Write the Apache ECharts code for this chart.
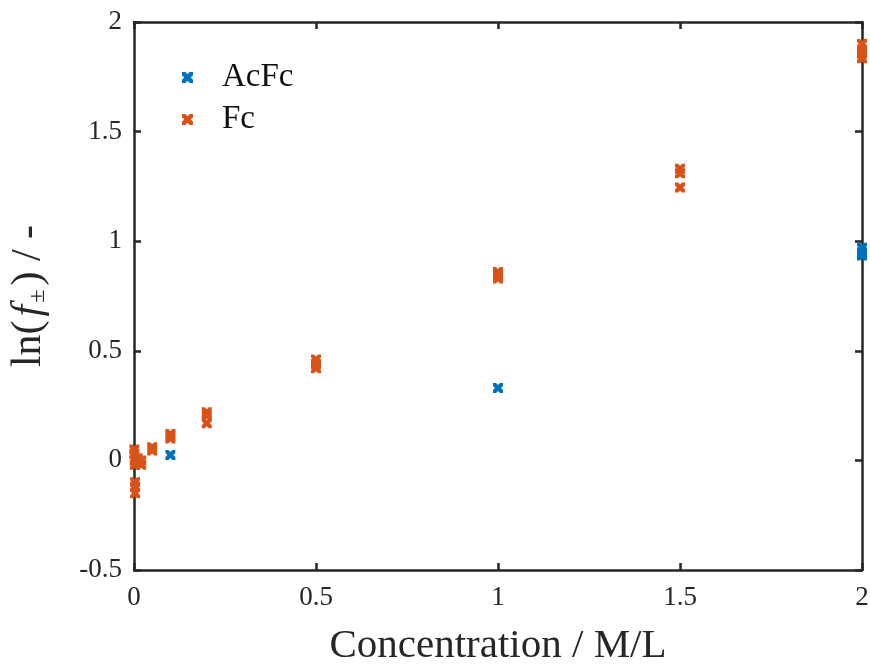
<!DOCTYPE html>
<html><head><meta charset="utf-8">
<script src="https://cdn.jsdelivr.net/npm/echarts@6/dist/echarts.min.js"></script>
<style>html,body{margin:0;padding:0;background:#fff}#c{width:870px;height:664px}</style>
</head><body><div id="c"></div>
<script>
var acfcX = [0.1, 1, 2, 2, 2];
var acfcY = [0.025, 0.33, 0.97, 0.95, 0.935];
var fcX = [0.001,0.001,0.002,0.002,0.003,0.003,0.003,0.01,0.01,0.02,0.02,0.05,0.05,0.1,0.1,0.1,0.2,0.2,0.2,0.5,0.5,0.5,1,1,1,1.5,1.5,1.5,2,2,2,2];
var fcY = [0.05,0.03,0.0,-0.02,-0.1,-0.12,-0.15,0.01,-0.01,0.0,-0.02,0.06,0.045,0.12,0.11,0.10,0.22,0.205,0.17,0.46,0.44,0.42,0.86,0.845,0.83,1.33,1.31,1.245,1.90,1.875,1.855,1.835];
var xTicks = [0, 0.5, 1, 1.5, 2];
var yTicks = [-0.5, 0, 0.5, 1, 1.5, 2];

function pairs(xs, ys){ return xs.map(function(x,i){return [x, ys[i]];}); }
var X = 'path://M0,0 L3,0 L5,2 L7,0 L10,0 L10,3 L8,5 L10,7 L10,10 L7,10 L5,8 L3,10 L0,10 L0,7 L2,5 L0,3 Z';
var font = 'Liberation Serif';
var ink = '#262626';
function fmt(v){ return String(v); }
var chart = echarts.init(document.getElementById('c'));
var axisCommon = {
  axisLine:{show:true,onZero:false,lineStyle:{color:ink,width:2.5}},
  axisTick:{show:true,inside:true,length:7,lineStyle:{color:ink,width:2.5}},
  splitLine:{show:false}
};
chart.setOption({
  animation:false,
  grid:{left:134,right:8,top:22,bottom:94,containLabel:false,outerBoundsMode:'none'},
  legend:{
    left:177, top:56, orient:'vertical', itemGap:9, itemWidth:11, itemHeight:11,
    textStyle:{fontFamily:font,fontSize:33,lineHeight:33,color:'#111',padding:[0,0,0,24]},
    data:[{name:'AcFc',icon:X},{name:'Fc',icon:X}]
  },
  xAxis:[
    Object.assign({type:'value',min:0,max:2,interval:0.5,position:'bottom',
      name:'Concentration / M/L',nameLocation:'middle',nameGap:56,
      nameTextStyle:{fontFamily:font,fontSize:41,color:ink},
      axisLabel:{fontFamily:font,fontSize:27,color:ink,margin:14,formatter:fmt}}, axisCommon),
    Object.assign({type:'value',min:0,max:2,interval:0.5,position:'top',axisLabel:{show:false}}, axisCommon)
  ],
  yAxis:[
    Object.assign({type:'value',min:-0.5,max:2,interval:0.5,position:'left',
      name:'{n|ln(}{i|f}{s|±}{n|) / -}',nameLocation:'middle',nameGap:84,
      nameTextStyle:{fontFamily:font,fontSize:42,color:ink,rich:{
        n:{fontFamily:font,fontSize:42,color:ink},
        i:{fontFamily:font,fontSize:42,fontStyle:'italic',color:ink,padding:[0,0,0,4]},
        s:{fontFamily:font,fontSize:24,color:ink,verticalAlign:'bottom',padding:[16,4,0,2]}}},
      axisLabel:{fontFamily:font,fontSize:27,color:ink,margin:12,formatter:fmt}}, axisCommon),
    Object.assign({type:'value',min:-0.5,max:2,interval:0.5,position:'right',axisLabel:{show:false}}, axisCommon)
  ],
  series:[
    {name:'AcFc',type:'scatter',symbol:X,symbolSize:10,itemStyle:{color:'#0072BD',opacity:1},data:pairs(acfcX,acfcY)},
    {name:'Fc',type:'scatter',symbol:X,symbolSize:10,itemStyle:{color:'#D95319',opacity:1},data:pairs(fcX,fcY)}
  ]
});
</script></body></html>
